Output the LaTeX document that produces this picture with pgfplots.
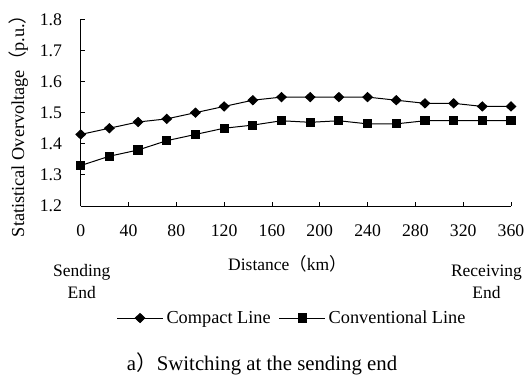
\documentclass[border=0pt]{standalone}
\usepackage{fontspec}
\setmainfont{Liberation Serif}
\newfontfamily\cjk{Noto Sans CJK SC}
\usepackage{pgfplots}
\pgfplotsset{compat=1.18}

\newcommand\ticklbl{\fontsize{17.7bp}{21bp}\selectfont}
\newcommand\lbl{\fontsize{17.5bp}{21.6bp}\selectfont}
\newcommand\legfont{\fontsize{18.3bp}{22bp}\selectfont}
\newcommand\capfont{\fontsize{20.8bp}{24bp}\selectfont}

\pgfplotstableread{
d     v
0     1.43
24    1.45
48    1.47
72    1.48
96    1.50
120   1.52
144   1.54
168   1.55
192   1.55
216   1.55
240   1.55
264   1.54
288   1.53
312   1.53
336   1.52
360   1.52
}\compact

\pgfplotstableread{
d     v
0     1.33
24    1.36
48    1.38
72    1.41
96    1.43
120   1.45
144   1.46
168   1.474
192   1.469
216   1.474
240   1.464
264   1.464
288   1.474
312   1.474
336   1.474
360   1.474
}\conventional

\begin{document}
\begin{tikzpicture}[x=1bp,y=1bp]
\useasboundingbox (0,0) rectangle (530,-379);
\begin{axis}[
  at={(80.7bp,-206bp)}, anchor=south west,
  scale only axis, width=430.3bp, height=186.7bp,
  xmin=0, xmax=360, ymin=1.2, ymax=1.8,
  xtick={0,40,...,360}, ytick={1.2,1.3,...,1.8},
  axis lines*=left,
  axis line style={line width=0.9bp, black},
  tick align=inside, major tick length=4bp,
  tick style={line width=0.9bp, black},
  /pgf/number format/assume math mode=true,
  yticklabel style={/pgf/number format/fixed, /pgf/number format/precision=1,
    /pgf/number format/fixed zerofill},
  tick label style={font=\ticklbl, inner sep=0pt},
  yticklabel style={anchor=east, xshift=-18.5bp},
  xticklabel style={anchor=north, yshift=-19bp},
  clip=false,
  legend columns=2,
  legend style={at={(0.4887,-0.6)}, anchor=center, draw=none, fill=none,
    font=\legfont, inner sep=0pt, nodes={inner sep=0pt},
    /tikz/every odd column/.append style={column sep=3bp},
    /tikz/every even column/.append style={column sep=8bp}},
  legend image code/.code={%
    \draw[mark repeat=2, mark phase=2, #1] plot coordinates {(0bp,0bp) (23bp,0bp) (46bp,0bp)};},
]
\addplot[black, line width=1bp, mark=diamond*, mark size=4.5bp,
  mark options={xscale=1.4, solid}] table[x=d, y=v] {\compact};
\addlegendentry{Compact Line}
\addplot[black, line width=1bp, mark=square*, mark size=4.1bp,
  mark options={solid}] table[x=d, y=v] {\conventional};
\addlegendentry{Conventional Line}
\end{axis}

\node[font=\legfont, rotate=90, anchor=base, inner sep=0pt] at (24,-121.5)
  {Statistical Overvoltage{\cjk （}p.u.{\cjk ）}};
\node[font=\lbl, anchor=base, inner sep=0pt] at (287.5,-270) {Distance{\cjk （}km{\cjk ）}};
\node[font=\lbl, align=center, anchor=base, inner sep=0pt] at (81.7,-298.3) {Sending\\End};
\node[font=\lbl, align=center, anchor=base, inner sep=0pt] at (486.5,-298.3) {Receiving\\End};
\node[font=\capfont, anchor=base, inner sep=0pt] at (262,-370) {a{\cjk ）}Switching at the sending end};
\end{tikzpicture}
\end{document}
